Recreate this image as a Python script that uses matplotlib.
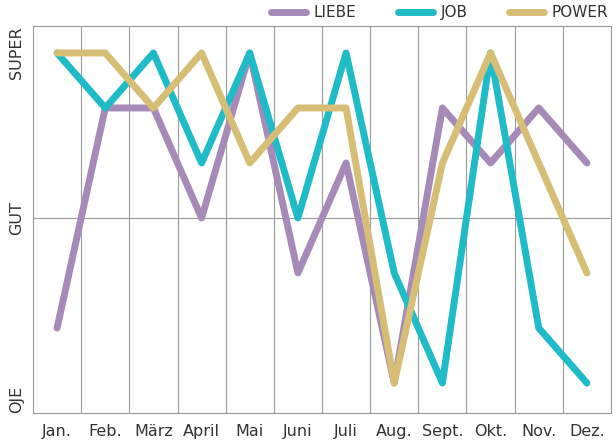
import numpy as np
import matplotlib.pyplot as plt

# Monate und Stimmungsverlauf (0 = OJE, 3 = GUT, 6 = SUPER)
months = ['Jan.', 'Feb.', 'März', 'April', 'Mai', 'Juni', 'Juli',
          'Aug.', 'Sept.', 'Okt.', 'Nov.', 'Dez.']
liebe = [1, 5, 5, 3, 6, 2, 4, 0, 5, 4, 5, 4]
job = [6, 5, 6, 4, 6, 3, 6, 2, 0, 6, 1, 0]
power = [6, 6, 5, 6, 4, 5, 5, 0, 4, 6, 4, 2]
level_labels = ['OJE', 'GUT', 'SUPER']

c_liebe = '#a68bb8'
c_job = '#1fbcc7'
c_power = '#d6be77'

fig = plt.figure(figsize=(6.16, 4.44), dpi=100)
ax = fig.add_axes([33/616, 1 - 413/444, 578/616, 387/444])

x = np.arange(len(months))
for vals, col, name in [(liebe, c_liebe, 'LIEBE'), (job, c_job, 'JOB'),
                        (power, c_power, 'POWER')]:
    ax.plot(x, vals, color=col, lw=5, solid_capstyle='round',
            solid_joinstyle='round', label=name)

ax.set_xlim(-0.5, len(months) - 0.5)
ax.set_ylim(-0.545, 6.49)

# Gitter: senkrecht zwischen den Monaten, waagrecht bei GUT
for b in np.arange(0.5, len(months) - 0.5, 1):
    ax.axvline(b, color='#9a9a9a', lw=0.8, zorder=0)
ax.axhline(3, color='#9a9a9a', lw=0.8, zorder=0)
for s in ax.spines.values():
    s.set_color('#9a9a9a')
    s.set_linewidth(0.8)

ax.set_xticks(x)
ax.set_xticklabels(months, fontsize=11.5, color='#333333')
ax.tick_params(axis='x', length=0, pad=8)
ax.set_yticks([])

lx = -0.029
ax.text(lx, 1.0, level_labels[2], transform=ax.transAxes, rotation=90,
        ha='center', va='top', fontsize=11.5, color='#333333')
ax.text(lx, 3.0, level_labels[1], transform=ax.get_yaxis_transform(),
        rotation=90, ha='center', va='center', fontsize=11.5, color='#333333')
ax.text(lx, 0.0, level_labels[0], transform=ax.transAxes, rotation=90,
        ha='center', va='bottom', fontsize=11.5, color='#333333')

leg = fig.legend(loc='upper right', bbox_to_anchor=(1.01, 1.02), ncol=3,
                 frameon=False, fontsize=11, handlelength=2.3,
                 columnspacing=2.7, handletextpad=0.5)
for t in leg.get_texts():
    t.set_color('#333333')

fig.savefig('out.png', dpi=100)
